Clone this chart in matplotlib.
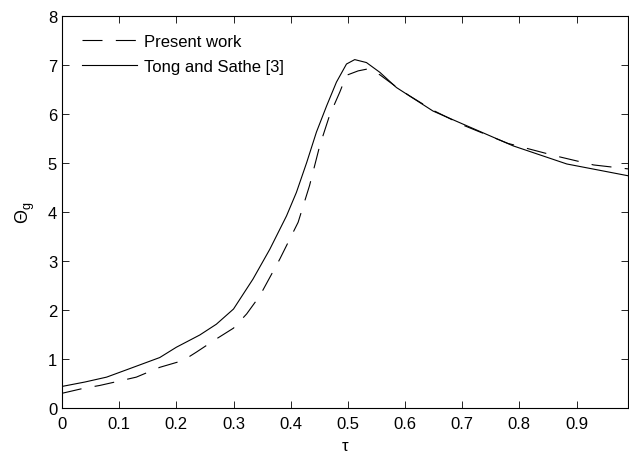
import matplotlib
matplotlib.use("Agg")
import matplotlib.pyplot as plt
import numpy as np

plt.rcParams['font.family'] = ['Liberation Sans', 'DejaVu Sans']
plt.rcParams['mathtext.fontset'] = 'custom'
plt.rcParams['mathtext.rm'] = 'Liberation Sans'
plt.rcParams['mathtext.it'] = 'Liberation Sans'

tau_ts = [0.0, 0.04, 0.078, 0.113, 0.171, 0.2, 0.241, 0.27, 0.30, 0.334, 0.3635, 0.3927, 0.41,
          0.428, 0.445, 0.463, 0.48, 0.4976, 0.512, 0.5325, 0.556, 0.585, 0.649, 0.708, 0.789,
          0.883, 0.99]
theta_ts = [0.44, 0.53, 0.63, 0.78, 1.03, 1.24, 1.49, 1.71, 2.02, 2.63, 3.24, 3.92, 4.40,
            5.01, 5.63, 6.17, 6.65, 7.02, 7.11, 7.05, 6.85, 6.54, 6.06, 5.76, 5.35,
            4.98, 4.74]

tau_pw = [0.0, 0.037, 0.066, 0.104, 0.13, 0.171, 0.212, 0.235, 0.27, 0.30, 0.323, 0.346, 0.381,
          0.413, 0.433, 0.451, 0.468, 0.486, 0.4976, 0.518, 0.535, 0.556, 0.585, 0.608, 0.65,
          0.7, 0.78, 0.865, 0.93, 0.99]
theta_pw = [0.30, 0.40, 0.46, 0.56, 0.63, 0.83, 0.97, 1.14, 1.41, 1.63, 1.92, 2.29, 3.04,
            3.79, 4.54, 5.36, 5.97, 6.45, 6.79, 6.88, 6.92, 6.80, 6.55, 6.37, 6.07,
            5.78, 5.40, 5.14, 4.96, 4.88]

xtick_labels = ['0', '0.1', '0.2', '0.3', '0.4', '0.5', '0.6', '0.7', '0.8', '0.9']

fig = plt.figure(figsize=(6.29, 4.56), dpi=100)
ax = fig.add_axes([62/629, 47/456, 566/629, 392/456])

ax.plot(tau_pw, theta_pw, color='black', lw=0.8, dashes=(18, 12), label='Present work')
ax.plot(tau_ts, theta_ts, color='black', lw=0.8, label='Tong and Sathe [3]')

ax.set_xlim(0, 0.99)
ax.set_ylim(0, 8)
ax.set_xticks(np.arange(0, 1.0, 0.1))
ax.set_xticklabels(xtick_labels)
ax.set_yticks(range(0, 9))
ax.tick_params(direction='in', top=True, right=True, labelsize=12, length=5, width=0.6)
ax.tick_params(axis='x', pad=6)
for s in ax.spines.values():
    s.set_linewidth(0.8)

ax.set_xlabel('τ', fontsize=12, labelpad=5)
ax.set_ylabel(r'$\Theta_{\mathrm{g}}$', fontsize=13, labelpad=8)

ax.legend(loc='upper left', frameon=False, fontsize=12, handlelength=3.3, handletextpad=0.4,
          bbox_to_anchor=(0.009, 0.992), borderaxespad=0.5, labelspacing=0.6, borderpad=0.4)

fig.savefig('out.png', dpi=100)
